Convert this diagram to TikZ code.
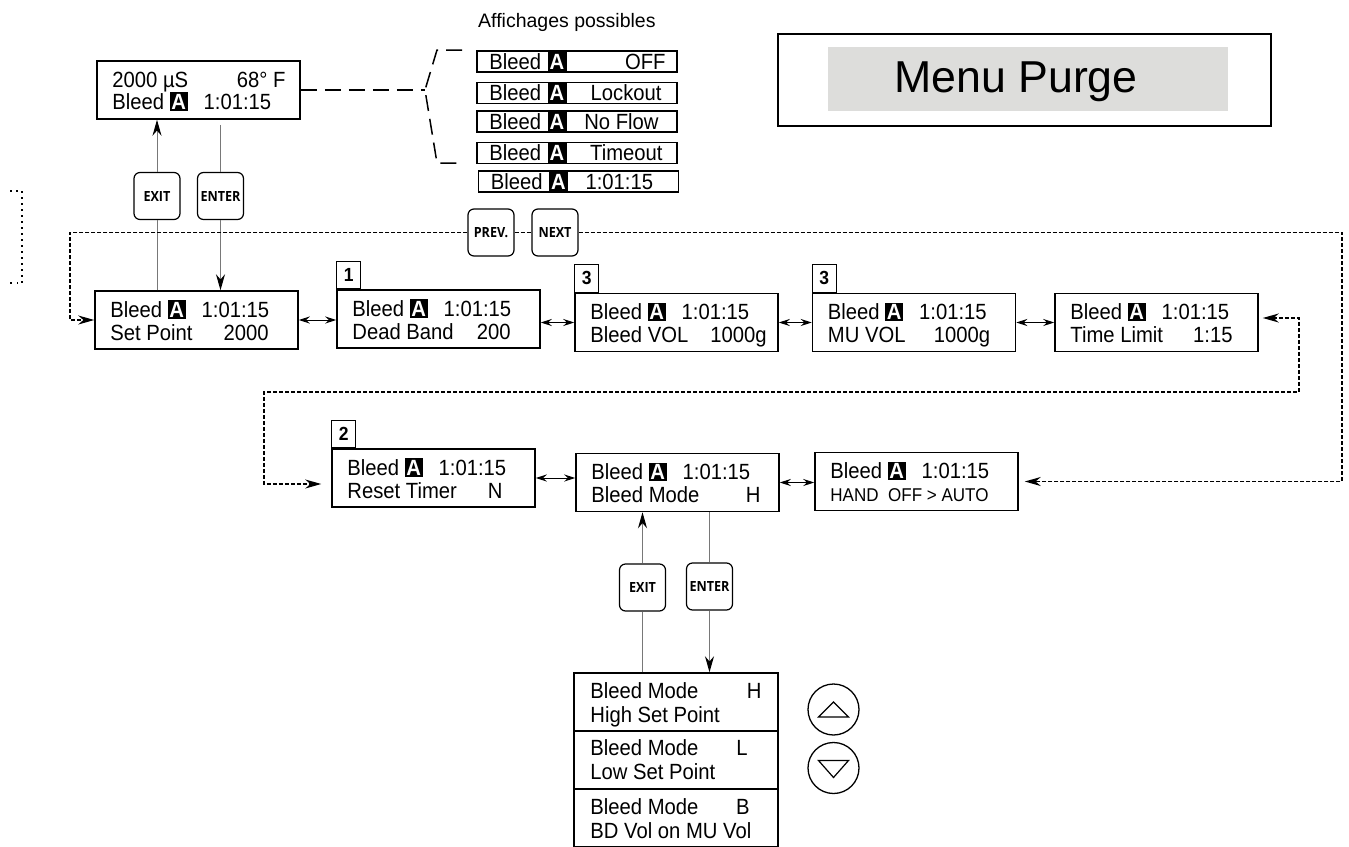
\documentclass[tikz,border=0pt]{standalone}
\usepackage{fontspec}
\setmainfont{Liberation Sans}
\newfontfamily\narrowfont[FakeStretch=0.92]{Liberation Sans}
\newfontfamily\keyfont[FakeStretch=0.9]{Open Sans}
\usepackage{xcolor}
\usetikzlibrary{arrows.meta, calc, positioning}
\definecolor{menugray}{RGB}{221,221,219}
\definecolor{wiregray}{RGB}{120,120,120}
\newcommand{\dfont}{\narrowfont\fontsize{22pt}{25pt}\selectfont}
\newcommand{\blkA}{{\fboxsep=1.6pt\colorbox{black}{\textcolor{white}{\bfseries A}}}}
\tikzstyle{disp} = [draw=black, line width=1.5pt, minimum width=203pt, minimum height=58pt, inner sep=0pt]
\tikzstyle{txt} = [inner sep=0pt, font=\dfont]
\tikzstyle{small} = [draw=black, line width=1.5pt, minimum width=200pt, minimum height=21pt, inner sep=0pt]
\tikzstyle{key} = [draw=black, line width=1.2pt, rounded corners=6pt, minimum width=46pt, minimum height=47pt, inner sep=0pt, font=\keyfont\bfseries\fontsize{14pt}{14pt}\selectfont]
\tikzstyle{tag} = [draw=black, line width=1pt, minimum width=24pt, minimum height=27pt, inner sep=0pt, anchor=south west, font=\narrowfont\bfseries\fontsize{19pt}{19pt}\selectfont]
\tikzstyle{wire} = [wiregray, line width=1pt]
\tikzstyle{link} = [line width=1pt, {Stealth[length=11pt,width=7pt]}-{Stealth[length=11pt,width=7pt]}]
\tikzstyle{navline} = [line width=1.5pt, dash pattern=on 4pt off 2pt]
\tikzstyle{bracedash} = [line width=1.5pt, dash pattern=on 16pt off 8pt]

% display with "Bleed A 1:01:15" on its first line
\newcommand{\rowbox}[5]{%
  \node[disp] (#1) at (#2) {};
  \node[txt, anchor=base west] (#1-t) at ([xshift=16pt, yshift=3pt]#1.west) {Bleed \blkA\hspace{16pt}1:01:15};
  \node[txt, anchor=base west] (#1-l) at ([xshift=16pt, yshift=-20pt]#1.west) {#3};
  \node[txt, anchor=base east] (#1-r) at ([xshift=-#5, yshift=-20pt]#1.east) {#4};
}
\newcommand{\modebox}[5]{%
  \node[disp, minimum width=204pt] (#1) at (#2) {};
  \node[txt, anchor=base west] (#1-t) at ([xshift=17pt, yshift=4pt]#1.west) {Bleed Mode};
  \node[txt, anchor=base east] (#1-r) at ([xshift=-#4, yshift=4pt]#1.east) {#3};
  \node[txt, anchor=base west] (#1-l) at ([xshift=17pt, yshift=-20pt]#1.west) {#5};
}
\newcommand{\smalldisp}[4]{%
  \node[small] (#1) at (#2) {};
  \node[fill=black, text=white, minimum width=19pt, minimum height=21pt, inner sep=0pt, font=\dfont\bfseries] (#1-a) at ([xshift=-20pt]#1.center) {A};
  \node[txt, anchor=base west] (#1-b) at ([xshift=13pt, yshift=-7.5pt]#1.west) {Bleed};
  \node[txt, anchor=base east] (#1-v) at ([xshift=-#4, yshift=-7.5pt]#1.east) {#3};
}

\begin{document}
\begin{tikzpicture}[x=1pt, y=-1pt, >={Stealth[length=16pt,width=9pt]}]
\useasboundingbox (0,0) rectangle (1349,846);

% title box
\node[draw=black, line width=1.5pt, minimum width=493pt, minimum height=92pt] (menu) at (1024.5,80) {};
\node[fill=menugray, minimum width=400pt, minimum height=64pt] (menubg) at (1028,79) {};
\node[inner sep=0pt, anchor=base, font=\fontsize{44.7pt}{50pt}\selectfont] (menutxt) at (1016,92) {Menu Purge};

% main display
\node[disp] (topd) at (198.5,90) {};
\node[txt, anchor=base west] (topd-c) at ([xshift=16pt, yshift=3pt]topd.west) {2000 µS};
\node[txt, anchor=base east] (topd-f) at ([xshift=-15pt, yshift=3pt]topd.east) {68° F};
\node[txt, anchor=base west] (topd-b) at ([xshift=16pt, yshift=-19pt]topd.west) {Bleed \blkA\hspace{16pt}1:01:15};

% possible displays
\node[inner sep=0pt, anchor=base west, font=\fontsize{19.5pt}{23pt}\selectfont] (title) at (478,27) {Affichages possibles};
\smalldisp{offd}{577,61.5}{OFF}{12pt}
\smalldisp{lockd}{577,93}{Lockout}{16pt}
\smalldisp{flowd}{577,121.5}{No Flow}{19pt}
\smalldisp{tmod}{577,153}{Timeout}{15pt}
\smalldisp{timed}{578.5,181.5}{1:01:15}{26pt}

\coordinate (br) at (425,90);
\coordinate (bt) at (462,50);
\coordinate (bb) at (463,163);
\draw[bracedash] (topd.east) -- (br);
\draw[bracedash] (bt) -- (437,50) -- (br) -- (437,163) -- (bb);

% keys
\node[key] (exit1) at (157,196) {EXIT};
\node[key] (enter1) at (220.5,196) {ENTER};
\node[key] (prev) at (491,232.5) {PREV.};
\node[key] (next) at (555,232.5) {NEXT};
\node[key] (exit2) at (642.5,587.5) {EXIT};
\node[key] (enter2) at (709.5,586.5) {ENTER};

% menu row
\rowbox{setp}{196.5,320}{Set Point}{2000}{30pt}
\rowbox{deadb}{438.5,319}{Dead Band}{200}{30pt}
\rowbox{bvol}{676.5,322.5}{Bleed VOL}{1000g}{12pt}
\rowbox{muvol}{914,322.5}{MU VOL}{1000g}{26pt}
\rowbox{tlim}{1156.5,322.5}{Time Limit}{1:15}{26pt}
\rowbox{rst}{433.5,478}{Reset Timer}{N}{33pt}
\rowbox{bmode}{677.5,482.5}{Bleed Mode}{H}{19pt}
\rowbox{hand}{916.5,481.5}{\fontsize{18.5pt}{20pt}\selectfont HAND\ \ OFF > AUTO}{}{20pt}

\node[tag] (tag1) at (deadb.north west) {1};
\node[tag, minimum height=28pt] (tag3a) at (bvol.north west) {3};
\node[tag, minimum height=28pt] (tag3b) at (muvol.north west) {3};
\node[tag] (tag2) at (rst.north west) {2};

\draw[link] (setp.east) -- (setp.east -| deadb.west);
\draw[link] (deadb.east |- bvol.west) -- (bvol.west);
\draw[link] (bvol.east) -- (muvol.west);
\draw[link] (muvol.east) -- (tlim.west);
\draw[link] (rst.east) -- (rst.east -| bmode.west);
\draw[link] (bmode.east) -- (bmode.east -| hand.west);

% mode list
\modebox{hsp}{676,702}{H}{17pt}{High Set Point}
\modebox{lsp}{676,759.5}{L}{31pt}{Low Set Point}
\modebox{bdv}{676,818}{B}{29pt}{BD Vol on MU Vol}

\node[draw=black, circle, line width=1.3pt, minimum size=51pt, inner sep=0pt] (upk) at (833.5,709.5) {};
\node[draw=black, circle, line width=1.3pt, minimum size=51pt, inner sep=0pt] (dnk) at (833.5,768) {};
\draw[line width=1.2pt] ($(upk)+(-15,7.5)$) -- ($(upk)+(15,7.5)$) -- ($(upk)+(0,-7.5)$) -- cycle;
\draw[line width=1.2pt] ($(dnk)+(-15,-7.5)$) -- ($(dnk)+(15,-7.5)$) -- ($(dnk)+(0,9.5)$) -- cycle;

% exit / enter wires
\draw[wire] (setp.north -| exit1) -- (exit1.south);
\draw[wire, -{Stealth[length=16pt,width=9pt,black]}] (exit1.north) -- (exit1.north |- topd.south);
\draw[wire, shorten <=5pt] (topd.south -| enter1) -- (enter1.north);
\draw[wire, -{Stealth[length=16pt,width=9pt,black]}] (enter1.south) -- (enter1.south |- setp.north);
\draw[wire] (hsp.north -| exit2) -- (exit2.south);
\draw[wire, -{Stealth[length=16pt,width=9pt,black]}] (exit2.north) -- (exit2.north |- bmode.south);
\draw[wire] (bmode.south -| enter2) -- (enter2.north);
\draw[wire, -{Stealth[length=16pt,width=9pt,black]}] (enter2.south) -- (enter2.south |- hsp.north);

% prev / next loops
\coordinate (ltop) at (70,232.5);
\coordinate (rtop) at (1342,232.5);
\coordinate (rmid) at (1299,392);
\coordinate (lmid) at (264,392);
\draw[navline, ->] (prev.west) -- (ltop) |- (setp.west);
\draw[navline] (prev.east) -- (next.west);
\draw[navline, ->, shorten >=6pt] (next.east) -- (rtop) |- (hand.east);
\draw[navline, <->, shorten <=4pt, shorten >=10pt] ([yshift=4.5pt]tlim.east) -| (rmid) -- (lmid) |- ([yshift=-6pt]rst.west);

\draw[line width=1.3pt, dash pattern=on 1.5pt off 4.5pt] (10,191) -- (22,191) -- (22,283) -- (10,283);
\end{tikzpicture}
\end{document}
